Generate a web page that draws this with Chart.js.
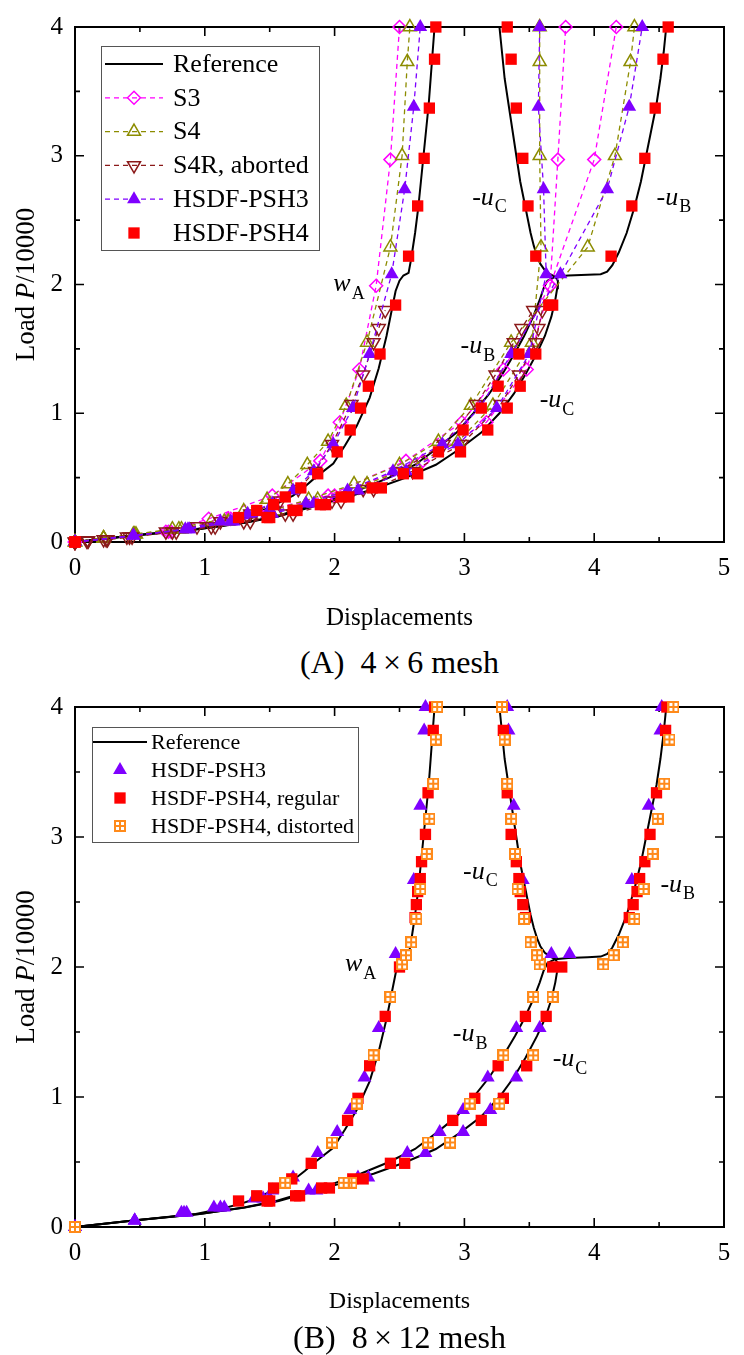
<!DOCTYPE html>
<html>
<head>
<meta charset="utf-8">
<script src="https://cdn.jsdelivr.net/npm/chart.js@4.4.1/dist/chart.umd.min.js"></script>
<style>
  body { margin: 0; background: #fff; width: 744px; height: 1355px; position: relative; overflow: hidden; }
  .panel { position: absolute; left: 0; width: 744px; height: 640px; }
  #boxA { top: 0; }
  #boxB { top: 680px; }
  .cap { position: absolute; left: 75px; width: 649px; text-align: center; font-family: "Liberation Serif", serif; font-size: 32px; line-height: 36px; color: #000; }
</style>
</head>
<body>
<div class="panel" id="boxA"><canvas id="chartA"></canvas></div>
<div class="cap" style="top:644px">(A)&nbsp; 4&thinsp;×&thinsp;6 mesh</div>
<div class="panel" id="boxB"><canvas id="chartB"></canvas></div>
<div class="cap" style="top:1319px">(B)&nbsp; 8&thinsp;×&thinsp;12 mesh</div>
<script>
// reference solution: load P/10000 against w_A, -u_B, -u_C
const refWA_P = [0, 0.05, 0.10, 0.14, 0.18, 0.21, 0.26, 0.31, 0.36, 0.43, 0.50, 0.61, 0.75, 0.90, 1.12, 1.35, 1.60, 1.80, 1.95, 2.03, 2.07, 2.09, 2.20, 2.40, 2.60, 2.80, 3.00, 3.20, 3.40, 3.60, 3.80, 4.00];
const refWA_D = [0, 0.45, 0.93, 1.13, 1.28, 1.37, 1.48, 1.58, 1.68, 1.77, 1.85, 1.99, 2.08, 2.17, 2.27, 2.34, 2.40, 2.44, 2.47, 2.50, 2.53, 2.57, 2.59, 2.62, 2.645, 2.665, 2.685, 2.705, 2.725, 2.74, 2.755, 2.77];
const refUB_P = [0, 0.05, 0.10, 0.15, 0.20, 0.26, 0.33, 0.41, 0.50, 0.60, 0.72, 0.85, 1.00, 1.15, 1.30, 1.47, 1.60, 1.75, 1.88, 1.97, 2.03, 2.06, 2.07, 2.075, 2.08, 2.10, 2.15, 2.25, 2.40, 2.60, 2.80, 3.00, 3.20, 3.40, 3.60, 3.80, 4.00];
const refUB_D = [0, 0.45, 0.96, 1.30, 1.55, 1.75, 1.98, 2.20, 2.42, 2.62, 2.78, 2.94, 3.07, 3.19, 3.29, 3.39, 3.46, 3.53, 3.58, 3.61, 3.64, 3.70, 3.80, 3.95, 4.05, 4.10, 4.14, 4.19, 4.25, 4.31, 4.36, 4.40, 4.44, 4.48, 4.51, 4.535, 4.555];
const refUC_P = [0, 0.05, 0.10, 0.15, 0.20, 0.26, 0.33, 0.41, 0.50, 0.60, 0.72, 0.85, 1.00, 1.15, 1.30, 1.47, 1.60, 1.75, 1.88, 1.97, 2.03, 2.06, 2.08, 2.11, 2.16, 2.22, 2.30, 2.40, 2.60, 2.80, 3.00, 3.20, 3.40, 3.60, 3.80, 4.00];
const refUC_D = [0, 0.45, 0.96, 1.31, 1.57, 1.78, 2.03, 2.30, 2.55, 2.78, 2.96, 3.13, 3.27, 3.38, 3.47, 3.56, 3.62, 3.67, 3.70, 3.715, 3.72, 3.70, 3.66, 3.62, 3.585, 3.56, 3.535, 3.51, 3.47, 3.43, 3.40, 3.37, 3.34, 3.31, 3.29, 3.27];

// (A) 4x6 mesh
const loadS3 = [0, 0.08, 0.18, 0.36, 0.63, 0.93, 1.34, 1.99, 2.97, 4.00];
const s3WA = [0, 0.70, 1.03, 1.52, 1.89, 2.04, 2.19, 2.32, 2.43, 2.50];
const s3UB = [0, 0.72, 1.18, 1.95, 2.55, 2.98, 3.30, 3.66, 4.00, 4.17];
const s3UC = [0, 0.74, 1.20, 2.00, 2.68, 3.17, 3.48, 3.66, 3.72, 3.78];

const loadS4 = [0, 0.03, 0.06, 0.10, 0.16, 0.24, 0.33, 0.45, 0.60, 0.78, 1.06, 1.55, 2.29, 3.00, 3.73, 4.00];
const s4WA = [0, 0.22, 0.45, 0.75, 1.05, 1.30, 1.48, 1.64, 1.79, 1.95, 2.09, 2.25, 2.43, 2.52, 2.56, 2.58];
const s4UB = [0, 0.22, 0.46, 0.80, 1.15, 1.50, 1.80, 2.15, 2.50, 2.80, 3.05, 3.36, 3.95, 4.16, 4.28, 4.31];
const s4UC = [0, 0.22, 0.47, 0.82, 1.18, 1.55, 1.87, 2.25, 2.62, 2.95, 3.22, 3.52, 3.59, 3.58, 3.58, 3.58];

const loadS4R = [0, 0.01, 0.02, 0.04, 0.08, 0.12, 0.16, 0.22, 0.32, 0.41, 0.55, 0.76, 1.07, 1.30, 1.55, 1.66, 1.80];
const s4rWA = [0, 0.09, 0.22, 0.40, 0.70, 0.94, 1.12, 1.35, 1.58, 1.72, 1.85, 1.98, 2.13, 2.22, 2.30, 2.34, 2.39];
const s4rUB = [0, 0.10, 0.24, 0.42, 0.75, 1.05, 1.30, 1.62, 1.98, 2.22, 2.50, 2.84, 3.09, 3.24, 3.38, 3.44, 3.53];
const s4rUC = [0, 0.10, 0.25, 0.44, 0.78, 1.08, 1.35, 1.68, 2.05, 2.30, 2.60, 2.98, 3.28, 3.42, 3.55, 3.57, 3.60];

const loadA3 = [0, 0.05, 0.10, 0.16, 0.22, 0.30, 0.40, 0.55, 0.76, 1.04, 1.46, 2.08, 2.74, 3.38, 4.00];
const a3WA = [0, 0.45, 0.85, 1.12, 1.33, 1.52, 1.68, 1.84, 1.99, 2.14, 2.27, 2.44, 2.54, 2.61, 2.66];
const a3UB = [0, 0.45, 0.87, 1.20, 1.48, 1.78, 2.10, 2.45, 2.83, 3.12, 3.36, 3.74, 4.10, 4.27, 4.37];
const a3UC = [0, 0.45, 0.88, 1.22, 1.52, 1.84, 2.18, 2.55, 2.95, 3.25, 3.50, 3.63, 3.61, 3.57, 3.58];

const loadA4 = [0, 0.19, 0.245, 0.29, 0.35, 0.42, 0.53, 0.70, 0.87, 1.04, 1.21, 1.46, 1.84, 2.22, 2.61, 2.98, 3.37, 3.75, 4.00];
const a4WA = [0, 1.26, 1.40, 1.53, 1.62, 1.74, 1.87, 2.02, 2.12, 2.20, 2.26, 2.35, 2.47, 2.57, 2.64, 2.69, 2.73, 2.77, 2.78];
const a4UB = [0, 1.48, 1.68, 1.89, 2.05, 2.29, 2.53, 2.80, 2.99, 3.13, 3.26, 3.42, 3.65, 4.13, 4.29, 4.39, 4.47, 4.53, 4.57];
const a4UC = [0, 1.50, 1.71, 1.93, 2.11, 2.36, 2.64, 2.97, 3.18, 3.33, 3.43, 3.55, 3.68, 3.55, 3.49, 3.45, 3.40, 3.36, 3.33];

// (B) 8x12 mesh
const loadB3 = [0, 0.05, 0.11, 0.15, 0.22, 0.28, 0.38, 0.57, 0.73, 0.90, 1.15, 1.53, 2.10, 2.67, 3.24, 3.82, 4.00];
const b3WA = [0, 0.46, 0.82, 1.07, 1.38, 1.52, 1.68, 1.87, 2.02, 2.12, 2.23, 2.34, 2.47, 2.61, 2.66, 2.69, 2.70];
const b3UB = [0, 0.46, 0.84, 1.12, 1.45, 1.80, 2.18, 2.56, 2.81, 2.99, 3.18, 3.40, 3.81, 4.29, 4.42, 4.51, 4.52];
const b3UC = [0, 0.46, 0.86, 1.15, 1.50, 1.86, 2.26, 2.70, 2.99, 3.20, 3.40, 3.58, 3.67, 3.45, 3.38, 3.34, 3.33];

const loadB4 = [0, 0.20, 0.24, 0.30, 0.37, 0.49, 0.82, 0.99, 1.24, 1.62, 2.00, 2.38, 2.48, 2.58, 2.68, 2.81, 3.02, 3.34, 3.82, 4.00];
const b4WA = [0, 1.26, 1.40, 1.53, 1.67, 1.82, 2.10, 2.18, 2.27, 2.39, 2.50, 2.62, 2.63, 2.64, 2.66, 2.67, 2.70, 2.72, 2.76, 2.77];
const b4UB = [0, 1.48, 1.70, 1.90, 2.14, 2.43, 2.91, 3.08, 3.26, 3.47, 3.68, 4.27, 4.30, 4.33, 4.35, 4.39, 4.43, 4.48, 4.55, 4.56];
const b4UC = [0, 1.50, 1.73, 1.96, 2.22, 2.54, 3.13, 3.30, 3.48, 3.63, 3.75, 3.47, 3.45, 3.43, 3.42, 3.40, 3.36, 3.33, 3.30, 3.29];

const loadBD = [0, 0.34, 0.65, 0.95, 1.32, 1.77, 2.02, 2.09, 2.19, 2.37, 2.60, 2.87, 3.14, 3.41, 3.75, 4.00];
const bdWA = [0, 1.62, 1.98, 2.17, 2.30, 2.43, 2.52, 2.55, 2.59, 2.63, 2.66, 2.71, 2.73, 2.76, 2.78, 2.79];
const bdUB = [0, 2.07, 2.72, 3.04, 3.30, 3.53, 4.07, 4.15, 4.22, 4.31, 4.38, 4.45, 4.49, 4.54, 4.58, 4.61];
const bdUC = [0, 2.13, 2.89, 3.27, 3.53, 3.68, 3.58, 3.56, 3.51, 3.46, 3.41, 3.39, 3.36, 3.33, 3.31, 3.29];

const SERIF = '"Liberation Serif", "Times New Roman", serif';

// orange square split into four white cells
function gridMark() {
  const c = document.createElement('canvas');
  c.width = 12; c.height = 12;
  const g = c.getContext('2d');
  g.fillStyle = '#ff8a1a';
  g.fillRect(0, 0, 12, 12);
  g.fillStyle = '#fff';
  [[2, 2], [7, 2], [2, 7], [7, 7]].forEach(([x, y]) => g.fillRect(x, y, 3, 3));
  return c;
}

const stS3 = { color: '#ff00ff', style: 'rectRot', r: 6.5, open: true, dashed: true, order: 5 };
const stS4 = { color: '#8c8c00', style: 'triangle', r: 7.5, open: true, dashed: true, order: 4 };
const stS4R = { color: '#8b1a1a', style: 'triangle', rot: 180, r: 7.5, open: true, dashed: true, order: 3 };
const stPSH3 = { color: '#7f00ff', style: 'triangle', r: 8, dashed: true, order: 2 };
const stPSH4 = { color: '#ff0000', style: 'rect', r: 8, order: 1 };
const stB3 = { color: '#7f00ff', style: 'triangle', r: 8, order: 3 };
const stB4 = { color: '#ff0000', style: 'rect', r: 8, order: 2 };
const stBD = { color: '#ff8a1a', style: gridMark(), r: 6, order: 1 };

function pts(disp, load) {
  return disp.map((d, i) => ({ x: d, y: load[i] }));
}

function series(st, load, branches) {
  return branches.map(d => ({
    data: pts(d, load),
    showLine: !!st.dashed,
    borderColor: st.color,
    borderWidth: 1.3,
    borderDash: [5, 4],
    pointStyle: st.style,
    pointRotation: st.rot || 0,
    pointRadius: st.r,
    pointBackgroundColor: st.open ? 'rgba(255,255,255,0)' : st.color,
    pointBorderColor: st.color,
    pointBorderWidth: st.open ? 1.5 : 0,
    order: st.order,
    clip: false
  }));
}

function reference() {
  return [[refWA_D, refWA_P], [refUB_D, refUB_P], [refUC_D, refUC_P]].map(([d, p]) => ({
    data: pts(d, p),
    showLine: true,
    borderColor: '#000',
    borderWidth: 2,
    pointRadius: 0,
    order: 9,
    clip: false
  }));
}

function marker(ctx, st, x, y) {
  ctx.save();
  ctx.setLineDash([]);
  ctx.fillStyle = st.open ? 'rgba(255,255,255,0)' : st.color;
  ctx.strokeStyle = st.color;
  ctx.lineWidth = 1.5;
  Chart.helpers.drawPoint(ctx, { pointStyle: st.style, rotation: st.rot || 0, radius: st.r, borderWidth: st.open ? 1.5 : 0 }, x, y);
  ctx.restore();
}

// "-u_B" style label: plain lead, italic letter, upright subscript
function rich(ctx, x, y, lead, it, sub, size) {
  ctx.textAlign = 'left';
  ctx.textBaseline = 'alphabetic';
  ctx.font = size + 'px ' + SERIF;
  ctx.fillText(lead, x, y);
  x += ctx.measureText(lead).width;
  ctx.font = 'italic ' + size + 'px ' + SERIF;
  ctx.fillText(it, x, y);
  x += ctx.measureText(it).width + 1;
  ctx.font = Math.round(size * 0.7) + 'px ' + SERIF;
  ctx.fillText(sub, x, y + size * 0.3);
}

function deco(cfg) {
  return {
    id: 'deco',
    beforeDatasetsDraw(chart) {
      const { ctx, chartArea: a, scales: { x, y } } = chart;
      ctx.save();
      ctx.strokeStyle = '#000';
      ctx.lineWidth = 2;
      ctx.strokeRect(a.left, a.top, a.right - a.left, a.bottom - a.top);
      ctx.lineWidth = 1.6;
      ctx.beginPath();
      for (let i = 0; i <= 10; i++) {
        const px = x.getPixelForValue(i / 2), len = i % 2 ? 5 : 9;
        ctx.moveTo(px, a.bottom); ctx.lineTo(px, a.bottom - len);
        ctx.moveTo(px, a.top); ctx.lineTo(px, a.top + len);
      }
      for (let i = 0; i <= 8; i++) {
        const py = y.getPixelForValue(i / 2), len = i % 2 ? 5 : 9;
        ctx.moveTo(a.left, py); ctx.lineTo(a.left + len, py);
        ctx.moveTo(a.right, py); ctx.lineTo(a.right - len, py);
      }
      ctx.stroke();
      ctx.restore();
    },
    afterDatasetsDraw(chart) {
      const { ctx, chartArea: a, scales: { x, y } } = chart;
      ctx.save();
      ctx.fillStyle = '#000';

      // axis titles
      ctx.font = cfg.xtSize + 'px ' + SERIF;
      ctx.textAlign = 'center';
      ctx.textBaseline = 'middle';
      ctx.fillText('Displacements', (a.left + a.right) / 2, a.bottom + cfg.xtGap);

      ctx.save();
      ctx.translate(27, (a.top + a.bottom) / 2);
      ctx.rotate(-Math.PI / 2);
      const f1 = cfg.ytSize + 'px ' + SERIF, f2 = 'italic ' + cfg.ytSize + 'px ' + SERIF;
      ctx.font = f1; const w1 = ctx.measureText('Load ').width, w3 = ctx.measureText('/10000').width;
      ctx.font = f2; const w2 = ctx.measureText('P').width;
      let tx = -(w1 + w2 + w3) / 2;
      ctx.textAlign = 'left';
      ctx.font = f1; ctx.fillText('Load ', tx, 0); tx += w1;
      ctx.font = f2; ctx.fillText('P', tx, 0); tx += w2;
      ctx.font = f1; ctx.fillText('/10000', tx, 0);
      ctx.restore();

      // curve labels
      cfg.notes.forEach(n => rich(ctx, x.getPixelForValue(n.x), y.getPixelForValue(n.y), n.lead, n.it, n.sub, 26));

      // legend
      const L = cfg.legend;
      ctx.fillStyle = '#fff';
      ctx.fillRect(L.x, L.y, L.w, L.h);
      ctx.strokeStyle = '#555';
      ctx.lineWidth = 1;
      ctx.strokeRect(L.x + 0.5, L.y + 0.5, L.w, L.h);
      L.items.forEach((e, i) => {
        const yy = L.y0 + i * L.step;
        if (e.line) {
          ctx.save();
          ctx.strokeStyle = e.line;
          ctx.lineWidth = e.dash ? 1.3 : 2;
          ctx.setLineDash(e.dash ? [5, 4] : []);
          ctx.beginPath();
          ctx.moveTo(L.s0, yy); ctx.lineTo(L.s1, yy);
          ctx.stroke();
          ctx.restore();
        }
        if (e.mark) marker(ctx, e.mark, (L.s0 + L.s1) / 2, yy);
        ctx.fillStyle = '#000';
        ctx.font = L.size + 'px ' + SERIF;
        ctx.textAlign = 'left';
        ctx.textBaseline = 'middle';
        ctx.fillText(e.label, L.tx, yy + 1);
      });
      ctx.restore();
    }
  };
}

function makeChart(id, sets, cfg) {
  const tickFont = { family: SERIF, size: 25 };
  return new Chart(document.getElementById(id), {
    type: 'scatter',
    data: { datasets: sets },
    options: {
      responsive: true,
      maintainAspectRatio: false,
      animation: false,
      events: [],
      layout: { padding: { top: cfg.top, right: 20, left: 0, bottom: 0 } },
      plugins: { legend: { display: false }, tooltip: { enabled: false } },
      scales: {
        x: {
          type: 'linear', min: 0, max: 5,
          ticks: { stepSize: 1, padding: 11, font: tickFont, color: '#000' },
          grid: { display: false, drawTicks: false },
          border: { display: false },
          afterFit: s => { s.height = cfg.xh; }
        },
        y: {
          type: 'linear', min: 0, max: 4,
          ticks: { stepSize: 1, padding: 12, font: tickFont, color: '#000' },
          grid: { display: false, drawTicks: false },
          border: { display: false },
          afterFit: s => { s.width = 75; }
        }
      }
    },
    plugins: [deco(cfg)]
  });
}

const setsA = [
  ...series(stPSH4, loadA4, [a4WA, a4UB, a4UC]),
  ...series(stPSH3, loadA3, [a3WA, a3UB, a3UC]),
  ...series(stS4R, loadS4R, [s4rWA, s4rUB, s4rUC]),
  ...series(stS4, loadS4, [s4WA, s4UB, s4UC]),
  ...series(stS3, loadS3, [s3WA, s3UB, s3UC]),
  ...reference()
];

const setsB = [
  ...series(stBD, loadBD, [bdWA, bdUB, bdUC]),
  ...series(stB4, loadB4, [b4WA, b4UB, b4UC]),
  ...series(stB3, loadB3, [b3WA, b3UB, b3UC]),
  ...reference()
];

makeChart('chartA', setsA, {
  top: 20, xh: 98, xtGap: 76, xtSize: 25, ytSize: 27,
  notes: [
    { x: 1.99, y: 1.95, lead: '', it: 'w', sub: 'A' },
    { x: 3.06, y: 2.62, lead: '-', it: 'u', sub: 'C' },
    { x: 4.48, y: 2.62, lead: '-', it: 'u', sub: 'B' },
    { x: 2.97, y: 1.47, lead: '-', it: 'u', sub: 'B' },
    { x: 3.58, y: 1.05, lead: '-', it: 'u', sub: 'C' }
  ],
  legend: {
    x: 101, y: 46, w: 218, h: 204, y0: 64, step: 33.8, s0: 105, s1: 163, tx: 173, size: 26,
    items: [
      { label: 'Reference', line: '#000' },
      { label: 'S3', line: stS3.color, dash: true, mark: stS3 },
      { label: 'S4', line: stS4.color, dash: true, mark: stS4 },
      { label: 'S4R, aborted', line: stS4R.color, dash: true, mark: stS4R },
      { label: 'HSDF-PSH3', line: stPSH3.color, dash: true, mark: stPSH3 },
      { label: 'HSDF-PSH4', mark: stPSH4 }
    ]
  }
});

makeChart('chartB', setsB, {
  top: 24, xh: 93, xtGap: 75, xtSize: 24, ytSize: 27,
  notes: [
    { x: 2.08, y: 1.97, lead: '', it: 'w', sub: 'A' },
    { x: 2.99, y: 2.68, lead: '-', it: 'u', sub: 'C' },
    { x: 4.51, y: 2.58, lead: '-', it: 'u', sub: 'B' },
    { x: 2.91, y: 1.43, lead: '-', it: 'u', sub: 'B' },
    { x: 3.68, y: 1.24, lead: '-', it: 'u', sub: 'C' }
  ],
  legend: {
    x: 92, y: 47, w: 266, h: 115, y0: 62, step: 28, s0: 93, s1: 147, tx: 151, size: 22,
    items: [
      { label: 'Reference', line: '#000' },
      { label: 'HSDF-PSH3', mark: stB3 },
      { label: 'HSDF-PSH4, regular', mark: stB4 },
      { label: 'HSDF-PSH4, distorted', mark: stBD }
    ]
  }
});
</script>
</body>
</html>
